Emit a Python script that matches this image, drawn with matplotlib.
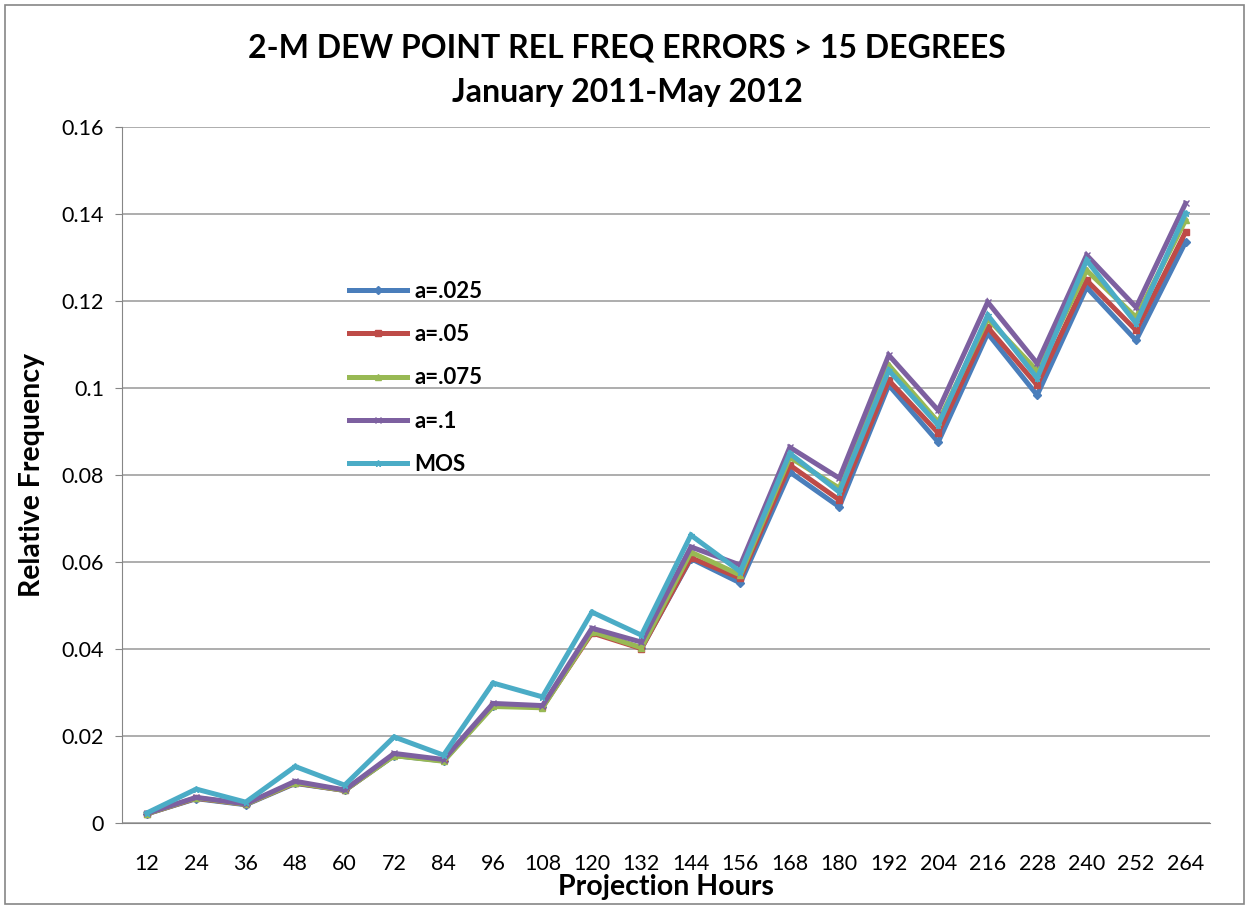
import matplotlib.pyplot as plt
from matplotlib.patches import Rectangle

plt.rcParams['font.family'] = ['Lato', 'DejaVu Sans']

hours = [12, 24, 36, 48, 60, 72, 84, 96, 108, 120, 132, 144, 156, 168, 180, 192, 204, 216, 228, 240, 252, 264]

a025 = [0.0021, 0.0056, 0.0042, 0.0091, 0.0075, 0.0155, 0.0143, 0.0270, 0.0267, 0.0440, 0.0402, 0.0608, 0.0552,
        0.0807, 0.0727, 0.1007, 0.0876, 0.1126, 0.0984, 0.1232, 0.1110, 0.1336]
a05 = [0.0021, 0.0057, 0.0043, 0.0092, 0.0075, 0.0156, 0.0144, 0.0271, 0.0267, 0.0437, 0.0401, 0.0610, 0.0563,
       0.0823, 0.0743, 0.1018, 0.0897, 0.1140, 0.1007, 0.1248, 0.1133, 0.1359]
a075 = [0.0021, 0.0058, 0.0043, 0.0093, 0.0075, 0.0155, 0.0142, 0.0268, 0.0265, 0.0440, 0.0403, 0.0623, 0.0570,
        0.0841, 0.0770, 0.1053, 0.0922, 0.1160, 0.1040, 0.1271, 0.1163, 0.1386]
a1 = [0.0022, 0.0059, 0.0044, 0.0096, 0.0076, 0.0160, 0.0146, 0.0275, 0.0270, 0.0448, 0.0416, 0.0635, 0.0593,
      0.0864, 0.0793, 0.1076, 0.0949, 0.1198, 0.1057, 0.1306, 0.1186, 0.1425]
mos = [0.0023, 0.0078, 0.0048, 0.0130, 0.0087, 0.0198, 0.0156, 0.0322, 0.0290, 0.0485, 0.0432, 0.0662, 0.0578,
       0.0850, 0.0761, 0.1041, 0.0915, 0.1168, 0.1023, 0.1294, 0.1149, 0.1402]

labels = ["a=.025", "a=.05", "a=.075", "a=.1", "MOS"]
colors = ["#4A7EBB", "#BE4B48", "#98B954", "#7D60A0", "#4BACC6"]
markers = ["D", "s", "^", "x", "*"]

fig = plt.figure(figsize=(12.49, 9.09), dpi=100)
ax = fig.add_axes([0.0977, 0.0946, 0.8713, 0.7654])

x = list(range(len(hours)))
for ys, lab, c, m in zip([a025, a05, a075, a1, mos], labels, colors, markers):
    ax.plot(x, ys, color=c, lw=3.6, marker=m, markersize=4.5, label=lab, solid_joinstyle='miter')

ax.set_xlim(-0.5, len(hours) - 0.5)
ax.set_ylim(0, 0.16)
ax.set_yticks([0, 0.02, 0.04, 0.06, 0.08, 0.1, 0.12, 0.14, 0.16])
ax.set_yticklabels(["0", "0.02", "0.04", "0.06", "0.08", "0.1", "0.12", "0.14", "0.16"], fontsize=15.5)
ax.set_xticks(x)
ax.set_xticklabels([str(h) for h in hours], fontsize=15.5)
ax.tick_params(axis='x', length=0, pad=22)
ax.tick_params(axis='y', length=5, color='#868686', pad=8)
ax.grid(axis='y', color='#A0A0A0', lw=1.2)
ax.set_axisbelow(True)
for s in ['top', 'right']:
    ax.spines[s].set_visible(False)
ax.spines['left'].set_color('#868686')
ax.spines['bottom'].set_color('#868686')

ax.set_xlabel("Projection Hours", fontsize=20.5, fontweight='bold', labelpad=0)
ax.set_ylabel("Relative Frequency", fontsize=20.5, fontweight='bold', labelpad=12)

fig.text(0.502, 0.947, "2-M DEW POINT REL FREQ ERRORS > 15 DEGREES", ha='center', va='center',
         fontsize=23, fontweight='bold')
fig.text(0.502, 0.898, "January 2011-May 2012", ha='center', va='center', fontsize=23, fontweight='bold')

leg = ax.legend(loc='upper left', bbox_to_anchor=(0.19, 0.808), frameon=False, fontsize=16,
                labelspacing=1.0, handlelength=2.6, handletextpad=0.35)
for t in leg.get_texts():
    t.set_fontweight('bold')

fig.patches.append(Rectangle((0.004, 0.005), 0.992, 0.99, transform=fig.transFigure,
                             fill=False, edgecolor='#868686', lw=1.2))

plt.savefig("out.png")
